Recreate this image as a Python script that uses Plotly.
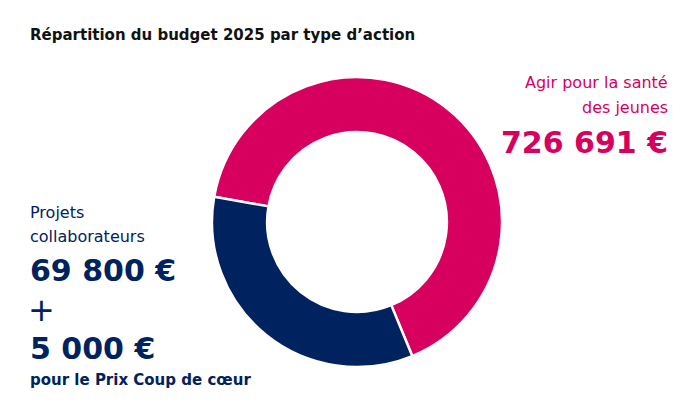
import plotly.graph_objects as go

# parts of the ring as drawn (share of the circle)
labels = ["Agir pour la santé des jeunes", "Projets collaborateurs"]
shares = [66, 34]
colors = ["#D7005F", "#00225E"]

PINK, NAVY = colors
FONT = "DejaVu Sans"
W, H = 700, 419
OFF = 8  # page body margin seen in the render


def px(x):
    return (x - OFF) / W


def py(y):
    return 1 - (y - OFF) / H


fig = go.Figure()
fig.add_trace(go.Pie(
    labels=labels, values=shares, hole=0.62, sort=False,
    direction="clockwise", rotation=280,
    marker=dict(colors=colors, line=dict(color="white", width=2.5)),
    textinfo="none", hoverinfo="label", showlegend=False,
    domain=dict(x=[px(212), px(502)], y=[py(367), py(77)]),
))


def txt(x, y, s, size, color, bold=True, anchor="left"):
    fig.add_annotation(
        x=px(x), y=py(y), xref="paper", yref="paper", text=s,
        showarrow=False, xanchor=anchor, yanchor="middle",
        font=dict(family=FONT, size=size, color=color,
                  weight="bold" if bold else "normal"),
    )


txt(28, 35, "Répartition du budget 2025 par type d’action", 15, "#111111")

txt(670, 82, "Agir pour la santé", 16, PINK, bold=False, anchor="right")
txt(670, 107, "des jeunes", 16, PINK, bold=False, anchor="right")
txt(670, 143, "726 691 €", 30, PINK, anchor="right")

txt(28, 212, "Projets", 16, NAVY, bold=False)
txt(28, 236, "collaborateurs", 16, NAVY, bold=False)
txt(28, 270, "69 800 €", 30, NAVY)
txt(26, 310, "+", 32, NAVY, bold=False)
txt(28, 348, "5 000 €", 30, NAVY)
txt(28, 380, "pour le Prix Coup de cœur", 15, NAVY)

fig.update_layout(
    width=W, height=H, margin=dict(l=0, r=0, t=0, b=0),
    paper_bgcolor="white", plot_bgcolor="white",
)
fig.write_html("out.html")
